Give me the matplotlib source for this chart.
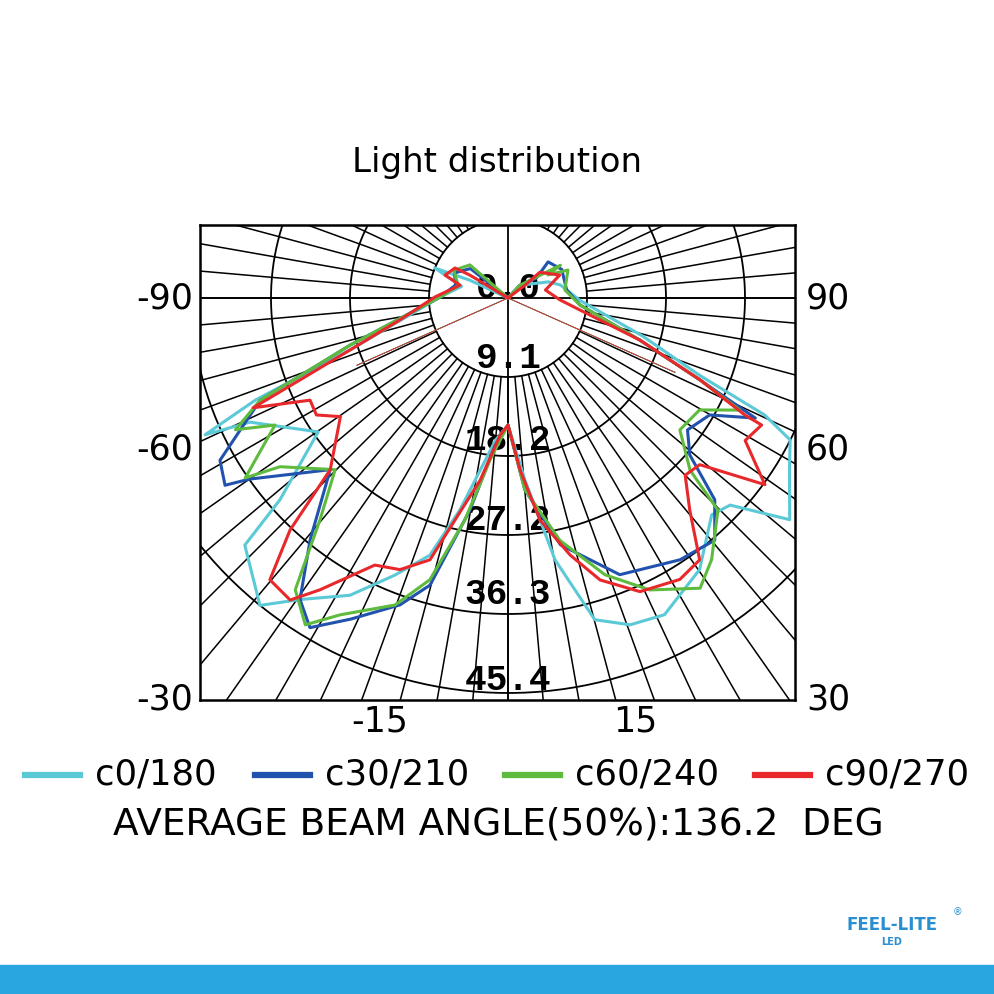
import numpy as np
import matplotlib
matplotlib.use("Agg")
import matplotlib.pyplot as plt

# angle measured from straight down (deg), intensity values
red_ang = [-180,-121,-119.5,-110,-105,-90.8,-78.5,-71.8,-68.5,-66.7,-62.7,-58.6,-54.7,-46,-43.2,-40.2,-35.8,-32.8,-26.5,-21.7,-16.6,-13.4,-8.7,-3.3,0,
           4,8.2,13.6,18.1,24.2,31.4,36.2,40.6,45,49,54,59,63.4,63.7,66.9,72.3,80.5,87.8,102,113.9,129,127,180]
red_val = [0,5.1,7.0,7.7,5.7,8.4,12.7,19.1,25.7,31.9,25.6,25.8,23.6,28.4,36.6,42.4,42.8,39.9,34.3,33.6,31.4,26.2,21.2,15.8,14.6,
           19.8,25.8,30.4,34.1,37.0,37.9,37.3,32.1,28.8,29.2,36.5,31.8,32.6,30.4,24.0,15.9,8.4,6.0,4.4,6.5,4.7,2.5,0]

green_ang = [-180,-131,-117,-104,-90.8,-73.4,-67.6,-64.2,-61.4,-55.6,-53.5,-45.2,-40.3,-36.1,-31.8,-27.9,-20.2,-15.5,-11,-6.3,0,
             5,12.1,19.3,25.9,33.5,37.9,44.7,46.6,52.5,59.7,64.2,66.9,72.3,84.5,98,115,120,122,137,180]
green_val = [0,5.8,7.0,5.9,7.8,18.9,30.8,34.8,30.5,36.6,32.6,28.0,33.4,41.5,44.2,41.2,37.6,33.6,26.0,18.7,14.6,
             22.1,28.5,33.7,37.3,40.0,38.1,34.3,28.8,24.9,25.5,29.6,24.0,15.9,8.3,6.6,7.6,5.3,7.1,2.0,0]

blue_ang = [-180,-128,-115,-104,-90.8,-73.4,-67.6,-60.6,-56.5,-55,-46,-39.3,-34.6,-31,-26.1,-19.4,-15.2,-10.2,-5,0,
            5,12,22,33.3,40.5,45.7,49.2,53.7,59.9,64.1,66.9,72.3,84.5,98,118,132,125,137,180]
blue_val = [0,5.5,6.8,6.2,7.8,18.9,30.8,38.0,39.0,36.3,28.4,35.9,42.1,44.2,41.1,37.4,34.2,24.8,17.0,14.6,
            22.1,29.0,34.3,36.0,36.6,33.2,27.6,25.6,26.8,31.6,24.0,15.9,8.3,6.8,7.0,6.2,4.0,2.0,0]

cyan_ang = [-180,-115,-112.3,-104,-90.8,-71.8,-68,-65.7,-64.3,-54.8,-48.5,-46.8,-38.9,-34.6,-28,-22.2,-16.9,-12.8,-5,0,
            5.3,10.2,15.1,20.5,26.3,35.2,43.2,47,51.8,58.6,63.3,65.5,68,74.3,88,104,111.8,137,180]
cyan_val = [0,4.8,9.1,5.5,7.8,19.1,31.3,38.2,32.9,26.7,35.0,41.5,45.4,42.1,38.7,34.4,30.9,25.0,16.4,14.6,
            21.0,30.6,38.3,40.1,40.6,38.2,34.2,34.9,41.2,37.9,36.3,32.4,23.8,16.0,8.3,6.2,5.0,2.0,0]

series = [("c0/180", cyan_ang, cyan_val, "#5CC9D6"),
          ("c30/210", blue_ang, blue_val, "#2152AE"),
          ("c60/240", green_ang, green_val, "#5EBB3E"),
          ("c90/270", red_ang, red_val, "#E8282B")]
ring_labels = ["0.0", "9.1", "18.2", "27.2", "36.3", "45.4"]
side_left = ["-90", "-60", "-30"]
side_right = ["90", "60", "30"]
bottom_labels = ["-15", "15"]

W = 994
fig = plt.figure(figsize=(9.94, 9.94), dpi=100)
cx, cy = 508, 298
k = 9.08 / 79.0
L, R, T, B = 200, 795, 225, 700
ax = fig.add_axes([L / W, (W - B) / W, (R - L) / W, (B - T) / W])
ax.set_xlim((L - cx) * k, (R - cx) * k)
ax.set_ylim(-(B - cy) * k, (cy - T) * k)
ax.set_xticks([]); ax.set_yticks([])
for s in ax.spines.values():
    s.set_linewidth(1.8)

step = 9.08
t = np.linspace(0, 2 * np.pi, 400)
for i in range(1, 6):
    ax.plot(i * step * np.cos(t), i * step * np.sin(t), color="black", lw=1.3)
for a in np.arange(0, 360, 5):
    ar = np.radians(a)
    ax.plot([step * np.cos(ar), 80 * np.cos(ar)], [step * np.sin(ar), 80 * np.sin(ar)], color="black", lw=1.1)
ax.axhline(0, color="black", lw=1.3)
ax.axvline(0, color="black", lw=1.3)

label_py = [288, 358, 440, 520, 595, 681]
for lab, py in zip(ring_labels, label_py):
    ax.text(0, -(py - cy) * k, lab, ha="center", va="center", family="Liberation Mono",
            fontweight="bold", fontsize=26, zorder=2)

for name, ang, val, col in series:
    a = np.radians(ang)
    v = np.array(val)
    ax.plot(v * np.sin(a), -v * np.cos(a), color=col, lw=2.2, zorder=5)
# thin chords
for name, ang, val, col in series:
    for side, ln in ((-1, 19.0), (1, 21.0)):
        a = np.radians(side * 66)
        ax.plot([0, ln * np.sin(a)], [0, -ln * np.cos(a)], color=col, lw=0.6, zorder=4)

def ft(x, y, s, **kw):
    fig.text(x / W, 1 - y / W, s, **kw)

ft(497, 162, "Light distribution", ha="center", va="center", fontsize=24.5)
for lab, y in zip(side_left, [298, 450, 700]):
    ft(165, y, lab, ha="center", va="center", fontsize=25)
for lab, y in zip(side_right, [298, 450, 700]):
    ft(828, y, lab, ha="center", va="center", fontsize=25)
for lab, x in zip(bottom_labels, [380, 635]):
    ft(x, 722, lab, ha="center", va="center", fontsize=25)

xs = [25, 255, 505, 755]
for (name, ang, val, col), x in zip(series, xs):
    fig.add_artist(plt.Line2D([x / W, (x + 55) / W], [1 - 775 / W] * 2, color=col, lw=4.5))
    ft(x + 70, 775, name, ha="left", va="center", fontsize=25.5)
ft(498, 825, "AVERAGE BEAM ANGLE(50%):136.2  DEG", ha="center", va="center", fontsize=27)

ft(892, 925, "FEEL-LITE", ha="center", va="center", fontsize=12, color="#2A8FD0", fontweight="bold")
ft(892, 942, "LED", ha="center", va="center", fontsize=7, color="#2A8FD0", fontweight="bold")
ft(957, 912, "®", ha="center", va="center", fontsize=7, color="#2A8FD0")
fig.add_artist(plt.Rectangle((0, 0), 1, 29 / W, color="#29A6DF", transform=fig.transFigure))

fig.savefig("out.png", dpi=100)
